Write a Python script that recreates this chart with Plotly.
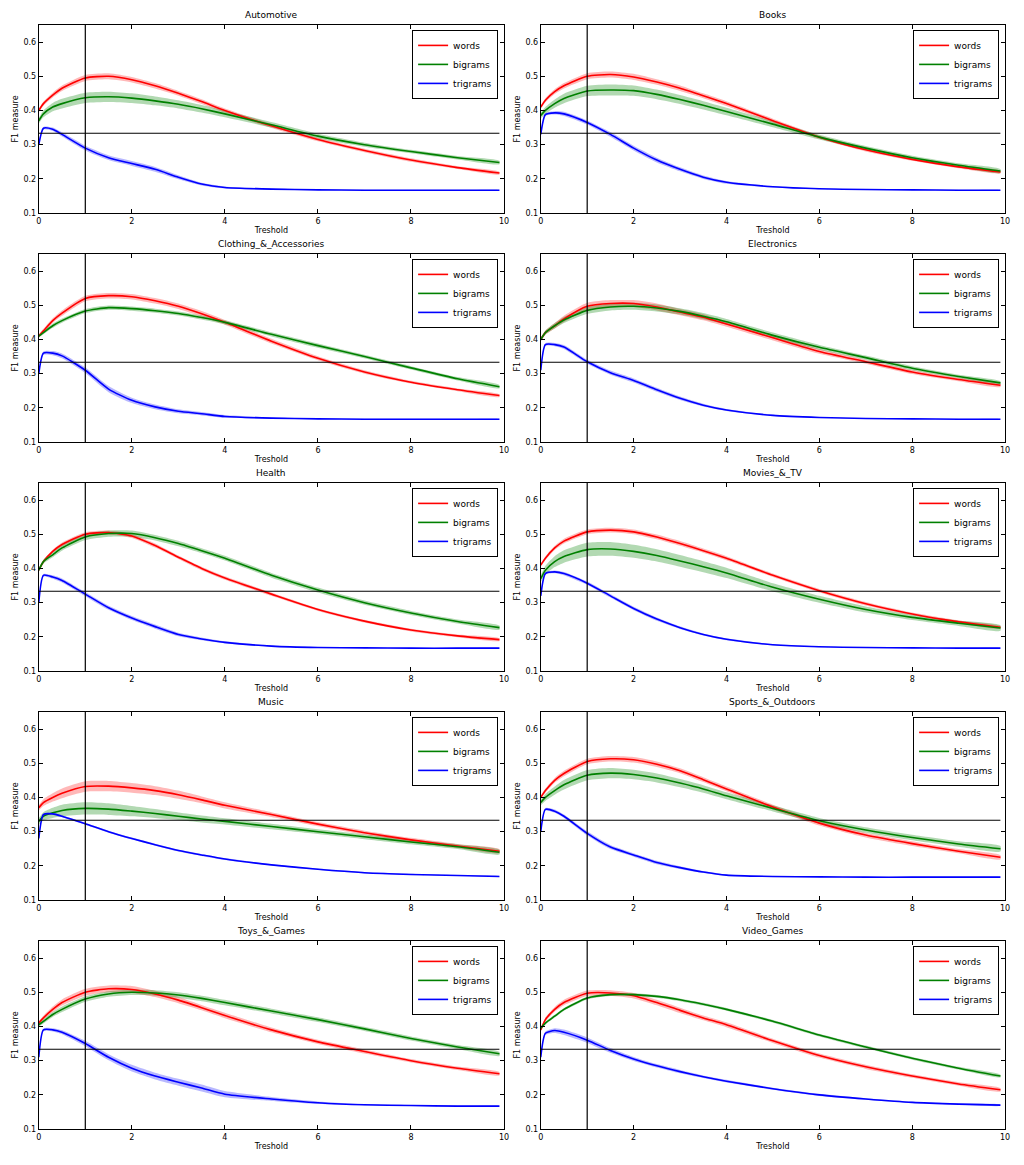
import plotly.graph_objects as go

# ---------------- data ----------------
X = [0, 0.1, 0.3, 0.5, 1, 1.5, 2, 2.5, 3, 3.5, 4, 5, 6, 7, 8, 9, 9.9]
CATEGORIES = ["Automotive", "Books", "Clothing_&_Accessories", "Electronics", "Health",
              "Movies_&_TV", "Music", "Sports_&_Outdoors", "Toys_&_Games", "Video_Games"]
SERIES = ["words", "bigrams", "trigrams"]
X_TICKS = [0, 2, 4, 6, 8, 10]
Y_TICKS = [0.1, 0.2, 0.3, 0.4, 0.5, 0.6]
THRESHOLD = [1, 1]
THRESHOLD_Y = [0.1, 0.65]
CHANCE = [1 / 3, 1 / 3]
CHANCE_X = [0, 9.9]

AUTO_WORDS = [0.40, 0.42, 0.445, 0.465, 0.495, 0.50, 0.49, 0.472, 0.45, 0.426, 0.40, 0.355, 0.315, 0.283, 0.255, 0.233, 0.217]
AUTO_WORDS_SD = [0.005, 0.006, 0.007, 0.008, 0.009, 0.009, 0.008, 0.008, 0.007, 0.007, 0.006, 0.006, 0.005, 0.005, 0.005, 0.004, 0.004]
AUTO_BIGRAMS = [0.37, 0.39, 0.41, 0.42, 0.437, 0.44, 0.436, 0.428, 0.418, 0.405, 0.39, 0.358, 0.325, 0.30, 0.28, 0.262, 0.248]
AUTO_BIGRAMS_SD = [0.008, 0.010, 0.012, 0.014, 0.015, 0.015, 0.014, 0.013, 0.012, 0.011, 0.010, 0.008, 0.007, 0.006, 0.005, 0.005, 0.005]
AUTO_TRIGRAMS = [0.30, 0.348, 0.345, 0.33, 0.29, 0.262, 0.245, 0.228, 0.205, 0.185, 0.175, 0.170, 0.168, 0.167, 0.167, 0.167, 0.167]
AUTO_TRIGRAMS_SD = [0.003, 0.004, 0.005, 0.006, 0.007, 0.007, 0.007, 0.007, 0.006, 0.004, 0.003, 0.002, 0.001, 0.001, 0.001, 0.001, 0.001]

BOOKS_WORDS = [0.41, 0.43, 0.455, 0.472, 0.50, 0.505, 0.498, 0.483, 0.465, 0.443, 0.42, 0.37, 0.322, 0.285, 0.257, 0.235, 0.22]
BOOKS_WORDS_SD = [0.005, 0.006, 0.007, 0.008, 0.009, 0.009, 0.009, 0.008, 0.008, 0.007, 0.007, 0.006, 0.005, 0.005, 0.004, 0.004, 0.004]
BOOKS_BIGRAMS = [0.385, 0.40, 0.42, 0.435, 0.457, 0.46, 0.458, 0.447, 0.432, 0.415, 0.397, 0.36, 0.322, 0.29, 0.262, 0.24, 0.223]
BOOKS_BIGRAMS_SD = [0.008, 0.010, 0.012, 0.014, 0.015, 0.016, 0.015, 0.014, 0.013, 0.012, 0.011, 0.009, 0.007, 0.006, 0.006, 0.006, 0.006]
BOOKS_TRIGRAMS = [0.33, 0.388, 0.393, 0.39, 0.365, 0.33, 0.29, 0.255, 0.228, 0.205, 0.19, 0.177, 0.171, 0.169, 0.168, 0.167, 0.167]
BOOKS_TRIGRAMS_SD = [0.003, 0.004, 0.005, 0.006, 0.006, 0.007, 0.007, 0.007, 0.006, 0.005, 0.004, 0.002, 0.001, 0.001, 0.001, 0.001, 0.001]

CLOTH_WORDS = [0.41, 0.425, 0.455, 0.477, 0.52, 0.528, 0.525, 0.513, 0.497, 0.475, 0.45, 0.395, 0.345, 0.305, 0.275, 0.253, 0.236]
CLOTH_WORDS_SD = [0.005, 0.006, 0.007, 0.008, 0.008, 0.008, 0.008, 0.008, 0.008, 0.008, 0.007, 0.007, 0.006, 0.005, 0.004, 0.004, 0.004]
CLOTH_BIGRAMS = [0.41, 0.42, 0.44, 0.455, 0.483, 0.493, 0.49, 0.484, 0.476, 0.464, 0.45, 0.415, 0.382, 0.35, 0.317, 0.285, 0.262]
CLOTH_BIGRAMS_SD = [0.004, 0.005, 0.006, 0.006, 0.006, 0.006, 0.006, 0.006, 0.006, 0.006, 0.006, 0.006, 0.006, 0.005, 0.005, 0.005, 0.005]
CLOTH_TRIGRAMS = [0.30, 0.36, 0.36, 0.352, 0.31, 0.255, 0.222, 0.203, 0.19, 0.183, 0.175, 0.17, 0.168, 0.167, 0.167, 0.167, 0.167]
CLOTH_TRIGRAMS_SD = [0.004, 0.005, 0.006, 0.007, 0.008, 0.009, 0.008, 0.007, 0.006, 0.005, 0.004, 0.002, 0.001, 0.001, 0.001, 0.001, 0.001]

ELEC_WORDS = [0.40, 0.42, 0.44, 0.46, 0.497, 0.505, 0.505, 0.495, 0.48, 0.465, 0.445, 0.405, 0.365, 0.335, 0.305, 0.283, 0.266]
ELEC_WORDS_SD = [0.005, 0.006, 0.008, 0.009, 0.010, 0.010, 0.010, 0.010, 0.009, 0.009, 0.008, 0.008, 0.007, 0.006, 0.006, 0.005, 0.005]
ELEC_BIGRAMS = [0.40, 0.42, 0.44, 0.457, 0.485, 0.495, 0.497, 0.492, 0.482, 0.468, 0.452, 0.412, 0.377, 0.347, 0.316, 0.292, 0.273]
ELEC_BIGRAMS_SD = [0.005, 0.006, 0.008, 0.009, 0.010, 0.010, 0.010, 0.010, 0.009, 0.009, 0.008, 0.008, 0.007, 0.006, 0.006, 0.005, 0.005]
ELEC_TRIGRAMS = [0.31, 0.385, 0.385, 0.378, 0.335, 0.303, 0.28, 0.253, 0.228, 0.208, 0.194, 0.178, 0.172, 0.169, 0.168, 0.167, 0.167]
ELEC_TRIGRAMS_SD = [0.003, 0.004, 0.005, 0.006, 0.006, 0.006, 0.006, 0.006, 0.005, 0.004, 0.003, 0.002, 0.001, 0.001, 0.001, 0.001, 0.001]

HEALTH_WORDS = [0.395, 0.42, 0.45, 0.47, 0.50, 0.505, 0.495, 0.467, 0.433, 0.40, 0.372, 0.325, 0.28, 0.246, 0.22, 0.203, 0.192]
HEALTH_WORDS_SD = [0.004, 0.005, 0.005, 0.006, 0.006, 0.006, 0.006, 0.006, 0.005, 0.005, 0.005, 0.005, 0.004, 0.004, 0.004, 0.004, 0.004]
HEALTH_BIGRAMS = [0.395, 0.42, 0.44, 0.46, 0.492, 0.502, 0.502, 0.49, 0.473, 0.452, 0.43, 0.38, 0.337, 0.30, 0.27, 0.245, 0.227]
HEALTH_BIGRAMS_SD = [0.005, 0.006, 0.007, 0.008, 0.009, 0.009, 0.009, 0.008, 0.008, 0.007, 0.007, 0.007, 0.007, 0.006, 0.006, 0.006, 0.006]
HEALTH_TRIGRAMS = [0.30, 0.38, 0.375, 0.365, 0.325, 0.285, 0.255, 0.23, 0.207, 0.194, 0.184, 0.173, 0.169, 0.168, 0.167, 0.167, 0.167]
HEALTH_TRIGRAMS_SD = [0.003, 0.004, 0.005, 0.006, 0.006, 0.006, 0.006, 0.006, 0.005, 0.004, 0.003, 0.002, 0.001, 0.001, 0.001, 0.001, 0.001]

MOVIES_WORDS = [0.41, 0.43, 0.46, 0.48, 0.507, 0.512, 0.507, 0.492, 0.473, 0.452, 0.43, 0.38, 0.335, 0.297, 0.267, 0.244, 0.228]
MOVIES_WORDS_SD = [0.004, 0.005, 0.006, 0.007, 0.007, 0.007, 0.007, 0.007, 0.007, 0.006, 0.006, 0.005, 0.005, 0.005, 0.004, 0.004, 0.004]
MOVIES_BIGRAMS = [0.37, 0.395, 0.42, 0.435, 0.455, 0.457, 0.45, 0.438, 0.422, 0.405, 0.387, 0.345, 0.31, 0.28, 0.257, 0.24, 0.226]
MOVIES_BIGRAMS_SD = [0.010, 0.013, 0.016, 0.018, 0.020, 0.020, 0.019, 0.018, 0.017, 0.016, 0.015, 0.012, 0.010, 0.009, 0.008, 0.008, 0.008]
MOVIES_TRIGRAMS = [0.32, 0.385, 0.39, 0.385, 0.357, 0.32, 0.283, 0.252, 0.227, 0.207, 0.193, 0.177, 0.171, 0.169, 0.168, 0.167, 0.167]
MOVIES_TRIGRAMS_SD = [0.003, 0.003, 0.004, 0.005, 0.005, 0.005, 0.005, 0.005, 0.004, 0.003, 0.003, 0.002, 0.001, 0.001, 0.001, 0.001, 0.001]

MUSIC_WORDS = [0.37, 0.385, 0.40, 0.412, 0.432, 0.433, 0.428, 0.42, 0.408, 0.393, 0.377, 0.35, 0.322, 0.297, 0.276, 0.258, 0.243]
MUSIC_WORDS_SD = [0.008, 0.010, 0.012, 0.014, 0.015, 0.015, 0.014, 0.013, 0.012, 0.010, 0.009, 0.007, 0.006, 0.006, 0.006, 0.006, 0.006]
MUSIC_BIGRAMS = [0.33, 0.345, 0.355, 0.362, 0.368, 0.366, 0.36, 0.353, 0.345, 0.337, 0.33, 0.315, 0.30, 0.285, 0.27, 0.256, 0.24]
MUSIC_BIGRAMS_SD = [0.010, 0.012, 0.015, 0.017, 0.018, 0.017, 0.015, 0.013, 0.011, 0.010, 0.009, 0.008, 0.007, 0.007, 0.007, 0.007, 0.007]
MUSIC_TRIGRAMS = [0.28, 0.35, 0.352, 0.345, 0.323, 0.30, 0.28, 0.262, 0.245, 0.232, 0.22, 0.203, 0.19, 0.18, 0.175, 0.172, 0.169]
MUSIC_TRIGRAMS_SD = [0.002, 0.003, 0.003, 0.003, 0.003, 0.003, 0.003, 0.003, 0.003, 0.003, 0.003, 0.002, 0.002, 0.002, 0.002, 0.001, 0.001]

SPORTS_WORDS = [0.40, 0.42, 0.45, 0.47, 0.505, 0.513, 0.51, 0.497, 0.478, 0.452, 0.425, 0.372, 0.325, 0.29, 0.265, 0.243, 0.225]
SPORTS_WORDS_SD = [0.005, 0.006, 0.007, 0.008, 0.008, 0.008, 0.008, 0.008, 0.007, 0.007, 0.007, 0.007, 0.007, 0.007, 0.007, 0.006, 0.006]
SPORTS_BIGRAMS = [0.385, 0.40, 0.42, 0.437, 0.465, 0.471, 0.467, 0.457, 0.442, 0.425, 0.405, 0.368, 0.332, 0.305, 0.283, 0.264, 0.25]
SPORTS_BIGRAMS_SD = [0.008, 0.010, 0.012, 0.014, 0.015, 0.015, 0.014, 0.013, 0.012, 0.011, 0.010, 0.009, 0.008, 0.008, 0.008, 0.008, 0.008]
SPORTS_TRIGRAMS = [0.30, 0.365, 0.36, 0.345, 0.295, 0.255, 0.232, 0.21, 0.195, 0.182, 0.173, 0.169, 0.168, 0.167, 0.167, 0.167, 0.167]
SPORTS_TRIGRAMS_SD = [0.003, 0.004, 0.005, 0.005, 0.006, 0.006, 0.005, 0.005, 0.004, 0.003, 0.002, 0.001, 0.001, 0.001, 0.001, 0.001, 0.001]

TOYS_WORDS = [0.41, 0.425, 0.45, 0.47, 0.50, 0.51, 0.508, 0.495, 0.477, 0.455, 0.432, 0.39, 0.355, 0.327, 0.30, 0.278, 0.262]
TOYS_WORDS_SD = [0.005, 0.006, 0.008, 0.009, 0.010, 0.010, 0.010, 0.009, 0.009, 0.008, 0.008, 0.007, 0.006, 0.006, 0.005, 0.005, 0.005]
TOYS_BIGRAMS = [0.405, 0.415, 0.435, 0.45, 0.48, 0.495, 0.50, 0.498, 0.492, 0.482, 0.47, 0.445, 0.42, 0.393, 0.365, 0.34, 0.32]
TOYS_BIGRAMS_SD = [0.005, 0.006, 0.007, 0.008, 0.008, 0.008, 0.008, 0.008, 0.008, 0.008, 0.008, 0.007, 0.007, 0.006, 0.006, 0.006, 0.006]
TOYS_TRIGRAMS = [0.31, 0.39, 0.39, 0.383, 0.35, 0.31, 0.278, 0.255, 0.237, 0.22, 0.202, 0.188, 0.177, 0.171, 0.169, 0.167, 0.167]
TOYS_TRIGRAMS_SD = [0.003, 0.004, 0.005, 0.006, 0.008, 0.009, 0.010, 0.010, 0.010, 0.010, 0.009, 0.006, 0.004, 0.002, 0.001, 0.001, 0.001]

VIDEO_WORDS = [0.39, 0.42, 0.45, 0.47, 0.497, 0.498, 0.49, 0.47, 0.447, 0.425, 0.405, 0.358, 0.315, 0.282, 0.255, 0.232, 0.215]
VIDEO_WORDS_SD = [0.005, 0.006, 0.007, 0.008, 0.008, 0.008, 0.008, 0.008, 0.008, 0.007, 0.007, 0.006, 0.006, 0.006, 0.005, 0.005, 0.005]
VIDEO_BIGRAMS = [0.395, 0.41, 0.43, 0.45, 0.483, 0.493, 0.493, 0.488, 0.478, 0.465, 0.45, 0.415, 0.375, 0.34, 0.307, 0.278, 0.255]
VIDEO_BIGRAMS_SD = [0.003, 0.004, 0.004, 0.004, 0.004, 0.004, 0.004, 0.004, 0.004, 0.004, 0.004, 0.004, 0.004, 0.004, 0.004, 0.004, 0.004]
VIDEO_TRIGRAMS = [0.31, 0.38, 0.388, 0.383, 0.36, 0.33, 0.305, 0.285, 0.268, 0.253, 0.24, 0.218, 0.20, 0.188, 0.178, 0.173, 0.17]
VIDEO_TRIGRAMS_SD = [0.003, 0.005, 0.007, 0.008, 0.008, 0.007, 0.006, 0.005, 0.005, 0.004, 0.004, 0.003, 0.003, 0.002, 0.002, 0.002, 0.002]

PANELS = [
    (AUTO_WORDS, AUTO_WORDS_SD, AUTO_BIGRAMS, AUTO_BIGRAMS_SD, AUTO_TRIGRAMS, AUTO_TRIGRAMS_SD),
    (BOOKS_WORDS, BOOKS_WORDS_SD, BOOKS_BIGRAMS, BOOKS_BIGRAMS_SD, BOOKS_TRIGRAMS, BOOKS_TRIGRAMS_SD),
    (CLOTH_WORDS, CLOTH_WORDS_SD, CLOTH_BIGRAMS, CLOTH_BIGRAMS_SD, CLOTH_TRIGRAMS, CLOTH_TRIGRAMS_SD),
    (ELEC_WORDS, ELEC_WORDS_SD, ELEC_BIGRAMS, ELEC_BIGRAMS_SD, ELEC_TRIGRAMS, ELEC_TRIGRAMS_SD),
    (HEALTH_WORDS, HEALTH_WORDS_SD, HEALTH_BIGRAMS, HEALTH_BIGRAMS_SD, HEALTH_TRIGRAMS, HEALTH_TRIGRAMS_SD),
    (MOVIES_WORDS, MOVIES_WORDS_SD, MOVIES_BIGRAMS, MOVIES_BIGRAMS_SD, MOVIES_TRIGRAMS, MOVIES_TRIGRAMS_SD),
    (MUSIC_WORDS, MUSIC_WORDS_SD, MUSIC_BIGRAMS, MUSIC_BIGRAMS_SD, MUSIC_TRIGRAMS, MUSIC_TRIGRAMS_SD),
    (SPORTS_WORDS, SPORTS_WORDS_SD, SPORTS_BIGRAMS, SPORTS_BIGRAMS_SD, SPORTS_TRIGRAMS, SPORTS_TRIGRAMS_SD),
    (TOYS_WORDS, TOYS_WORDS_SD, TOYS_BIGRAMS, TOYS_BIGRAMS_SD, TOYS_TRIGRAMS, TOYS_TRIGRAMS_SD),
    (VIDEO_WORDS, VIDEO_WORDS_SD, VIDEO_BIGRAMS, VIDEO_BIGRAMS_SD, VIDEO_TRIGRAMS, VIDEO_TRIGRAMS_SD),
]

# ---------------- style / layout ----------------
PAGE_OFFSET = 8  # the page body adds an 8px margin around the figure
W, H = 1024 - 2 * PAGE_OFFSET, 1165 - 2 * PAGE_OFFSET
LINE_COLORS = ["#ff0000", "#008000", "#0000ff"]
BAND_COLORS = ["rgba(255,0,0,0.28)", "rgba(0,128,0,0.3)", "rgba(0,0,255,0.28)"]
COLS_PX = [(36, 505), (542, 1010)]
ROWS_PX = [(25, 214), (255, 444), (485, 674), (715, 904), (945, 1134)]
FONT = "DejaVu Sans"

fig = go.Figure()
layout = dict(
    width=W, height=H, margin=dict(l=0, r=0, t=0, b=0),
    paper_bgcolor="white", plot_bgcolor="white",
    font=dict(family=FONT, color="black", size=8),
    showlegend=True, annotations=[],
)

for i, (cat, arrs) in enumerate(zip(CATEGORIES, PANELS)):
    r, c = divmod(i, 2)
    x0, x1 = [v - PAGE_OFFSET for v in COLS_PX[c]]
    y0, y1 = [v - PAGE_OFFSET for v in ROWS_PX[r]]
    n = i + 1
    xa = "x" if n == 1 else f"x{n}"
    ya = "y" if n == 1 else f"y{n}"
    xkey = "xaxis" if n == 1 else f"xaxis{n}"
    ykey = "yaxis" if n == 1 else f"yaxis{n}"
    lkey = "legend" if n == 1 else f"legend{n}"
    dom_x = [x0 / W, x1 / W]
    dom_y = [1 - y1 / H, 1 - y0 / H]

    # bands
    for s in range(3):
        mean, sd = arrs[2 * s], arrs[2 * s + 1]
        up = [m + d for m, d in zip(mean, sd)]
        lo = [m - d for m, d in zip(mean, sd)]
        fig.add_trace(go.Scatter(
            x=X + X[::-1], y=up + lo[::-1], fill="toself", fillcolor=BAND_COLORS[s],
            line=dict(width=0, shape="spline", smoothing=0.6), mode="lines",
            hoverinfo="skip", showlegend=False, xaxis=xa, yaxis=ya))
    # lines
    for s in range(3):
        fig.add_trace(go.Scatter(
            x=X, y=arrs[2 * s], mode="lines", name=SERIES[s],
            line=dict(color=LINE_COLORS[s], width=1.6, shape="spline", smoothing=0.6),
            legend=lkey, xaxis=xa, yaxis=ya))
    # reference lines
    fig.add_trace(go.Scatter(x=CHANCE_X, y=CHANCE, mode="lines", showlegend=False,
                             line=dict(color="black", width=1.2), xaxis=xa, yaxis=ya))
    fig.add_trace(go.Scatter(x=THRESHOLD, y=THRESHOLD_Y, mode="lines", showlegend=False,
                             line=dict(color="black", width=1.2), xaxis=xa, yaxis=ya))

    layout[xkey] = dict(
        domain=dom_x, anchor=ya, range=[0, 10], tickvals=X_TICKS,
        ticks="inside", ticklen=4, tickcolor="black", showline=True, linecolor="black",
        linewidth=1, mirror="ticks", showgrid=False, zeroline=False,
        tickfont=dict(size=8, family=FONT),
        title=dict(text="Treshold", font=dict(size=8, family=FONT), standoff=2))
    layout[ykey] = dict(
        domain=dom_y, anchor=xa, range=[0.1, 0.65], tickvals=Y_TICKS,
        ticktext=[f"{v:.1f}" for v in Y_TICKS],
        ticks="inside", ticklen=4, tickcolor="black", showline=True, linecolor="black",
        linewidth=1, mirror="ticks", showgrid=False, zeroline=False,
        tickfont=dict(size=8, family=FONT),
        title=dict(text="F1 measure", font=dict(size=8, family=FONT), standoff=3))
    layout[lkey] = dict(
        x=(x1 - 6) / W, y=1 - (y0 + 5) / H, xanchor="right", yanchor="top",
        xref="paper", yref="paper",
        bgcolor="white", bordercolor="black", borderwidth=1,
        font=dict(size=9, family=FONT), tracegroupgap=0, itemwidth=30,
        traceorder="normal")
    layout["annotations"].append(dict(
        text=cat, x=(x0 + x1) / 2 / W, y=1 - (y0 - 3) / H, xref="paper", yref="paper",
        xanchor="center", yanchor="bottom", showarrow=False,
        font=dict(size=9, family=FONT)))

fig.update_layout(**layout)
fig.write_html("out.html")
